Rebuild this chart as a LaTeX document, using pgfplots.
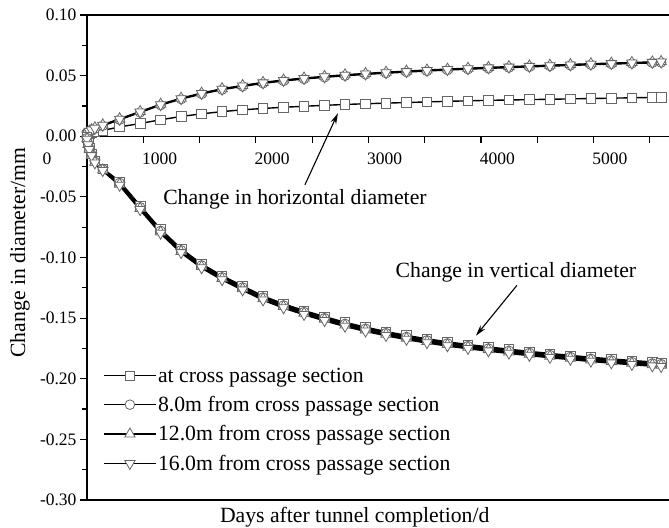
\documentclass[border=0pt]{standalone}
\usepackage{fontspec}
\setmainfont{Liberation Serif}
\usepackage{pgfplots}
\pgfplotsset{compat=1.18}
\usepackage{pgfplotstable}
\usetikzlibrary{arrows.meta}

\newcommand\ticksize{\fontsize{17.5}{20}\selectfont}
\newcommand\lab{\fontsize{21.7}{25}\selectfont}

\pgfplotstableread{
x hsq hc htu htd vsq vc vtu vtd
0 0.0010 0.0010 0.0012 0.0011 -0.0010 -0.0015 -0.0020 -0.0025
10 0.0015 0.0024 0.0026 0.0025 -0.0055 -0.0060 -0.0065 -0.0070
20 0.0020 0.0038 0.0042 0.0040 -0.0095 -0.0100 -0.0105 -0.0110
40 0.0030 0.0049 0.0053 0.0051 -0.0145 -0.0150 -0.0155 -0.0160
70 0.0036 0.0062 0.0070 0.0066 -0.0205 -0.0210 -0.0215 -0.0220
140 0.0048 0.0086 0.0094 0.0090 -0.0268 -0.0273 -0.0278 -0.0283
290 0.0077 0.0136 0.0144 0.0140 -0.0375 -0.0385 -0.0395 -0.0405
472 0.0105 0.0196 0.0204 0.0200 -0.0575 -0.0585 -0.0595 -0.0605
654 0.0136 0.0256 0.0264 0.0260 -0.0770 -0.0780 -0.0790 -0.0800
836 0.0163 0.0306 0.0314 0.0310 -0.0930 -0.0940 -0.0950 -0.0960
1018 0.0185 0.0348 0.0356 0.0352 -0.1055 -0.1065 -0.1075 -0.1085
1200 0.0203 0.0384 0.0392 0.0388 -0.1153 -0.1163 -0.1173 -0.1183
1382 0.0218 0.0411 0.0419 0.0415 -0.1237 -0.1247 -0.1257 -0.1267
1564 0.0229 0.0436 0.0444 0.0440 -0.1320 -0.1330 -0.1340 -0.1350
1746 0.0239 0.0456 0.0464 0.0460 -0.1385 -0.1395 -0.1405 -0.1415
1928 0.0247 0.0472 0.0480 0.0476 -0.1440 -0.1450 -0.1460 -0.1470
2110 0.0255 0.0486 0.0494 0.0490 -0.1490 -0.1500 -0.1510 -0.1520
2292 0.0262 0.0499 0.0507 0.0503 -0.1537 -0.1547 -0.1557 -0.1567
2474 0.0268 0.0510 0.0518 0.0514 -0.1577 -0.1587 -0.1597 -0.1607
2656 0.0273 0.0520 0.0528 0.0524 -0.1613 -0.1623 -0.1633 -0.1643
2838 0.0278 0.0529 0.0537 0.0533 -0.1645 -0.1655 -0.1665 -0.1675
3020 0.0283 0.0538 0.0546 0.0542 -0.1673 -0.1683 -0.1693 -0.1703
3202 0.0288 0.0546 0.0554 0.0550 -0.1698 -0.1708 -0.1718 -0.1728
3384 0.0292 0.0553 0.0561 0.0557 -0.1720 -0.1730 -0.1740 -0.1750
3566 0.0296 0.0560 0.0568 0.0564 -0.1740 -0.1750 -0.1760 -0.1770
3748 0.0299 0.0566 0.0574 0.0570 -0.1759 -0.1769 -0.1779 -0.1789
3930 0.0302 0.0572 0.0580 0.0576 -0.1777 -0.1787 -0.1797 -0.1807
4112 0.0305 0.0578 0.0586 0.0582 -0.1794 -0.1804 -0.1814 -0.1824
4294 0.0308 0.0584 0.0592 0.0588 -0.1810 -0.1820 -0.1830 -0.1840
4476 0.0311 0.0590 0.0598 0.0594 -0.1825 -0.1835 -0.1845 -0.1855
4658 0.0314 0.0595 0.0603 0.0599 -0.1839 -0.1849 -0.1859 -0.1869
4840 0.0317 0.0600 0.0608 0.0604 -0.1852 -0.1862 -0.1872 -0.1882
5022 0.0320 0.0605 0.0613 0.0609 -0.1864 -0.1874 -0.1884 -0.1894
5100 0.0321 0.0608 0.0616 0.0612 -0.1869 -0.1879 -0.1889 -0.1899
}\data

\begin{document}
\begin{tikzpicture}
\begin{axis}[
  name=ax, scale only axis, width=582pt, height=485pt,
  xmin=0, xmax=5170, ymin=-0.30, ymax=0.10,
  axis x line=middle, axis y line=left,
  axis line style={-, line width=1.4pt, black},
  hide obscured x ticks=false,
  clip=false,
  xtick={0,500,1000,1500,2000,2500,3000,3500,4000,4500,5000},
  xticklabels={0,,1000,,2000,,3000,,4000,,5000},
  xticklabel style={xshift=-40pt, font=\ticksize, anchor=north, yshift=-6pt},
  ytick={-0.30,-0.25,-0.20,-0.15,-0.10,-0.05,0,0.05,0.10},
  yticklabels={-0.30,-0.25,-0.20,-0.15,-0.10,-0.05,0.00,0.05,0.10},
  yticklabel style={font=\ticksize},
  minor y tick num=1,
  tick align=outside,
  major tick length=7pt, minor tick length=5pt,
  tick style={line width=1.2pt, black},
  /pgf/number format/assume math mode=true,
  ylabel={Change in diameter/mm},
  ylabel style={font=\lab, at={(rel axis cs:-0.1151,0.51)}, anchor=center},
  xlabel={Days after tunnel completion/d},
  xlabel style={font=\lab, at={(rel axis cs:0.46,0)}, anchor=north, yshift=-4pt},
  legend style={at={(rel axis cs:0.0275,0.276)}, anchor=north west, draw=none, fill=none,
    font=\lab, cells={anchor=west}, row sep=9.6pt, inner sep=0pt, nodes={inner sep=1.5pt}},
  legend image code/.code={\draw[mark repeat=2,mark phase=2] plot coordinates {(0pt,0pt) (26pt,0pt) (52pt,0pt)};},
  every axis plot/.append style={black, line width=1.4pt},
]
\addplot[mark=square*, mark size=4.8pt, mark options={fill=white, draw=black!60, line width=0.8pt}] table[x=x,y=hsq]{\data};
\addlegendentry{at cross passage section}
\addplot[mark=*, mark size=4.8pt, mark options={fill=white, draw=black!60, line width=0.8pt}] table[x=x,y=hc]{\data};
\addlegendentry{8.0m from cross passage section}
\addplot[mark=triangle*, mark size=6pt, mark options={fill=white, draw=black!60, line width=0.8pt}] table[x=x,y=htu]{\data};
\addlegendentry{12.0m from cross passage section}
\addplot[mark=triangle*, mark size=6pt, mark options={fill=white, draw=black!60, line width=0.8pt, rotate=180}] table[x=x,y=htd]{\data};
\addlegendentry{16.0m from cross passage section}
\addplot[forget plot, line width=2pt, mark=square*, mark size=4.8pt, mark options={fill=white, draw=black!60, line width=0.8pt}] table[x=x,y=vsq]{\data};
\addplot[forget plot, line width=2pt, mark=*, mark size=4.8pt, mark options={fill=white, draw=black!60, line width=0.8pt}] table[x=x,y=vc]{\data};
\addplot[forget plot, line width=2pt, mark=triangle*, mark size=6pt, mark options={fill=white, draw=black!60, line width=0.8pt}] table[x=x,y=vtu]{\data};
\addplot[forget plot, line width=2pt, mark=triangle*, mark size=6pt, mark options={fill=white, draw=black!60, line width=0.8pt, rotate=180}] table[x=x,y=vtd]{\data};
\draw[line width=1.4pt] (rel axis cs:0,1) -- (rel axis cs:1,1);
\draw[line width=2pt] (rel axis cs:0,0) -- (rel axis cs:1,0);
\node[font=\lab] at (axis cs:1847,-0.052) {Change in horizontal diameter};
\draw[-{Stealth[length=11pt,width=6pt]}, line width=1.1pt] (axis cs:1936,-0.040) -- (axis cs:2229,0.019);
\node[font=\lab] at (axis cs:3810,-0.1124) {Change in vertical diameter};
\draw[-{Stealth[length=11pt,width=6pt]}, line width=1.1pt] (axis cs:3819,-0.123) -- (axis cs:3455,-0.1645);
\end{axis}
\pgfresetboundingbox
\useasboundingbox ([shift={(-87pt,-28pt)}]ax.south west) rectangle ([shift={(0pt,15pt)}]ax.north east);
\end{tikzpicture}
\end{document}
